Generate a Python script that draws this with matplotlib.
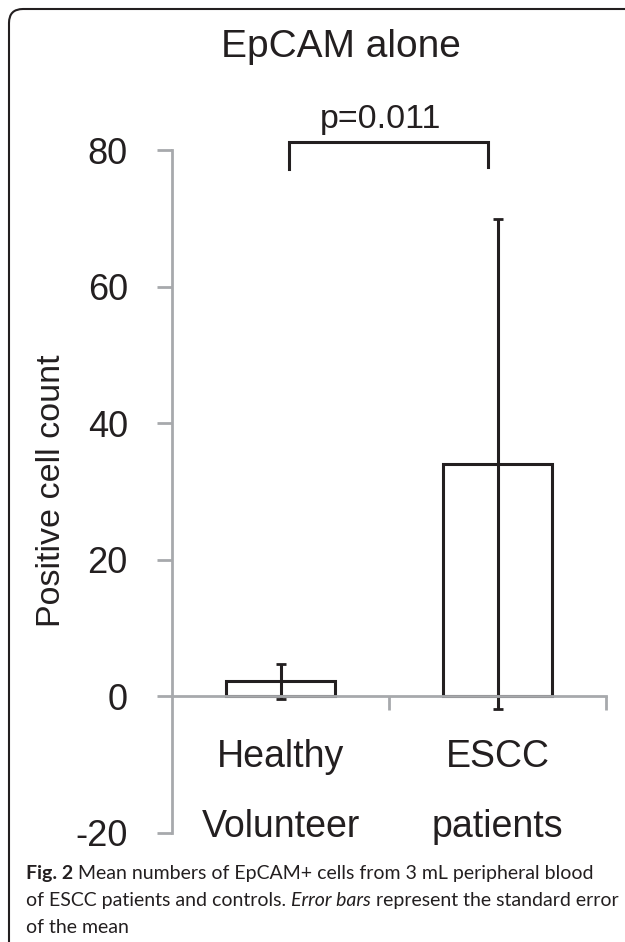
import matplotlib
matplotlib.use("Agg")
import matplotlib.pyplot as plt
from matplotlib.patches import FancyBboxPatch
from matplotlib.transforms import IdentityTransform

# data
groups = ["Healthy\nVolunteer", "ESCC\npatients"]
means = [2.2, 34.0]
sem = [2.6, 35.9]
y_ticks = [-20, 0, 20, 40, 60, 80]
title = "EpCAM alone"
y_label = "Positive cell count"
p_label = "p=0.011"
caption = [
    [("Fig. 2", "bold", "normal"),
     (" Mean numbers of EpCAM+ cells from 3 mL peripheral blood", "normal", "normal")],
    [("of ESCC patients and controls. ", "normal", "normal"),
     ("Error bars", "normal", "italic"),
     (" represent the standard error", "normal", "normal")],
    [("of the mean", "normal", "normal")],
]

ink = "#231f20"
axis_gray = "#a7a9ac"
W, H = 625, 942

plt.rcParams['font.family'] = ['Liberation Sans', 'DejaVu Sans']
plt.rcParams['axes.unicode_minus'] = False

fig = plt.figure(figsize=(W / 100, H / 100), dpi=100)
ax = fig.add_axes([172 / W, 109 / H, 434 / W, 683 / H])

x = list(range(len(groups)))
ax.bar(x, means, width=0.5, color="white", edgecolor=ink, linewidth=2.2, zorder=1)
ax.errorbar(x, means, yerr=sem, fmt="none", ecolor=ink, elinewidth=2.2,
            capsize=3.6, capthick=2, zorder=2)

ax.set_xlim(-0.5, len(groups) - 0.5)
ax.set_ylim(y_ticks[0], y_ticks[-1])

for s in ("top", "right"):
    ax.spines[s].set_visible(False)
for s in ("left", "bottom"):
    ax.spines[s].set_color(axis_gray)
    ax.spines[s].set_linewidth(2)
ax.spines["bottom"].set_position(("data", 0))

ax.set_yticks(y_ticks)
ax.tick_params(axis="y", direction="out", length=10.8, width=2, color=axis_gray,
               labelsize=26, pad=21, labelcolor=ink)
ax.set_xticks([i + 0.5 for i in x])
ax.set_xticklabels([])
ax.tick_params(axis="x", direction="out", length=10, width=2, color=axis_gray)

# two-line category labels under the plot
for i, g in enumerate(groups):
    top, bottom = g.split("\n")
    ax.text(i, -10.4, top, ha="center", va="baseline", fontsize=27, color=ink)
    ax.text(i, -20.6, bottom, ha="center", va="baseline", fontsize=27, color=ink)

# significance bracket
ax.plot([0.04, 0.04, 0.955, 0.955], [77.2, 81.1, 81.1, 77.5], color=ink, lw=2.2,
        clip_on=False, solid_joinstyle="miter")
ax.text(0.459, 83.2, p_label, ha="center", va="baseline", fontsize=24.5, color=ink)

fig.text(341 / W, 1 - 57 / H, title, ha="center", va="baseline", fontsize=28, color=ink)
fig.text(51 / W, 1 - 491 / H, y_label, rotation=90, ha="center", va="center",
         fontsize=24.5, color=ink)

# caption, pieces chained left to right
cap_font = ["Lato", "DejaVu Sans"]
for n, parts in enumerate(caption):
    y = 1 - (879 + 27 * n) / H
    prev = None
    for text, weight, style in parts:
        if prev is None:
            prev = fig.text(26 / W, y, text, ha="left", va="baseline", fontsize=14,
                            family=cap_font, weight=weight, style=style, color=ink)
        else:
            prev = ax.annotate(text, xy=(1, 0), xycoords=prev, ha="left", va="bottom",
                               fontsize=14, family=cap_font, weight=weight,
                               style=style, color=ink, annotation_clip=False)

# rounded frame, running off the right and bottom edges
frame = FancyBboxPatch((9, -40), W + 60, H - 9 + 40,
                       boxstyle="round,pad=0,rounding_size=14",
                       transform=IdentityTransform(), facecolor="none",
                       edgecolor=ink, linewidth=1.5)
fig.add_artist(frame)

fig.savefig("out.png", dpi=100)
